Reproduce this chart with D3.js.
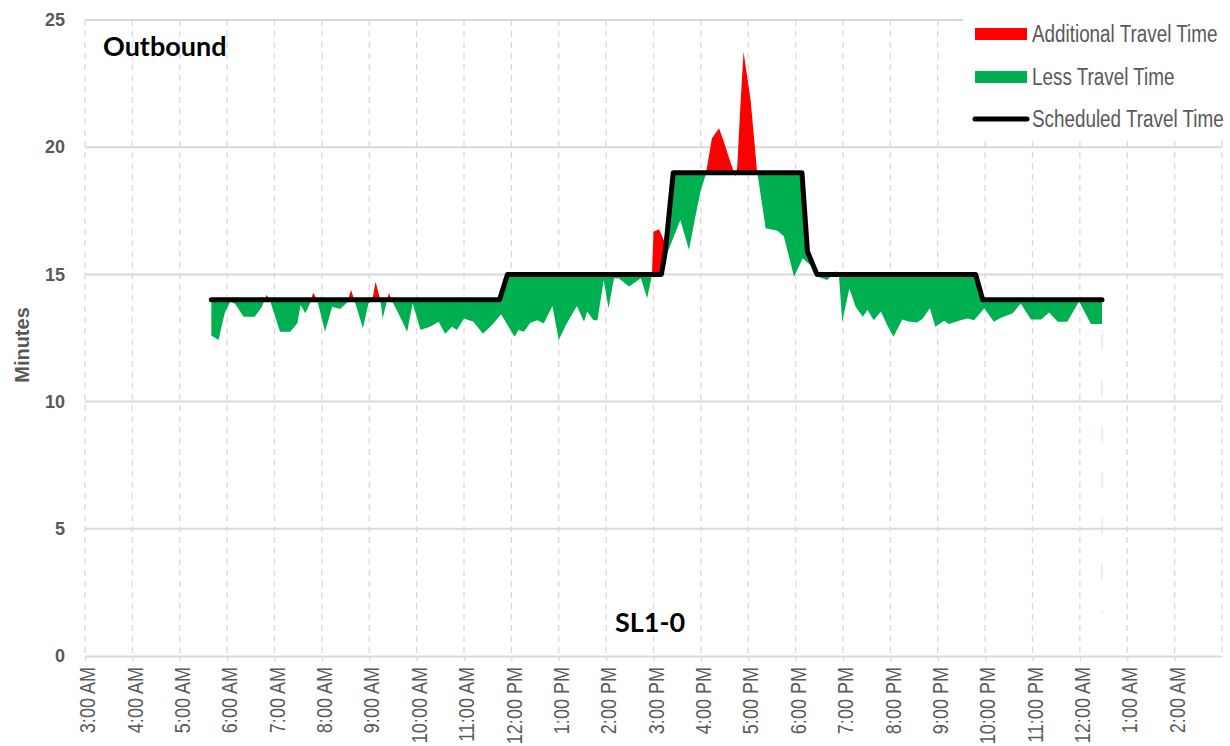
<!DOCTYPE html>
<html>
<head>
<meta charset="utf-8">
<script src="https://cdn.jsdelivr.net/npm/d3@7"></script>
<style>
body { margin:0; background:#ffffff; }
.axis text { fill:#595959; }
</style>
</head>
<body>
<svg id="chart"></svg>
<script>
// Scheduled travel time breakpoints (minutes)
var schedTimes = ["5:40","11:45","11:55","15:10","15:15","15:25","18:08","18:15","18:27","21:48","21:57","0:28"];
var schedValues = [14,14,15,15,15.9,19,19,15.9,15,15,14,14];

var actualTimes = ["5:40","5:49","5:57","6:04","6:10","6:21","6:35","6:44","6:50","6:54",
    "7:07","7:20","7:29","7:33","7:39","7:45","7:49","7:54","8:04","8:13",
    "8:23","8:32","8:37","8:41","8:52","8:59","9:04","9:08","9:14","9:17",
    "9:25","9:28","9:39","9:48","9:55","10:05","10:17","10:28","10:36","10:45",
    "10:51","11:00","11:12","11:24","11:36","11:47","12:04","12:09","12:16","12:24",
    "12:33","12:41","12:52","13:00","13:09","13:15","13:23","13:32","13:36","13:44",
    "13:49","13:57","14:03","14:10","14:16","14:29","14:35","14:44","14:52","14:58",
    "15:00","15:07","15:13","15:19","15:34","15:45","15:53","16:00","16:06","16:14",
    "16:23","16:29","16:38","16:44","16:46","16:50","16:54","17:03","17:11","17:22",
    "17:37","17:45","17:58","18:09","18:21","18:28","18:40","18:51","18:55","18:59",
    "19:08","19:16","19:25","19:31","19:39","19:48","19:56","20:04","20:15","20:23",
    "20:34","20:41","20:50","20:57","21:08","21:14","21:29","21:38","21:46","21:59",
    "22:11","22:20","22:35","22:45","22:58","23:11","23:21","23:32","23:44","23:59",
    "0:14","0:28"];
var actualValues = [12.6,12.42,13.48,13.93,13.85,13.34,13.34,13.73,14.19,14.0,
    12.75,12.75,13.08,13.8,13.47,13.86,14.28,14.0,12.75,13.73,
    13.64,13.9,14.39,14.0,12.88,13.86,14.0,14.71,14.0,13.27,
    14.28,14.0,13.34,12.75,13.86,12.81,12.94,13.14,12.67,12.94,
    12.81,13.27,13.14,12.67,13.03,13.43,12.55,12.81,12.75,13.1,
    13.2,13.07,13.76,12.42,13.0,13.34,13.76,13.14,13.54,13.2,
    13.2,14.78,13.67,14.85,14.85,14.52,14.65,14.85,14.06,14.98,
    16.68,16.77,16.35,15.96,17.14,15.96,17.27,18.32,18.9,20.35,
    20.74,20.22,19.36,18.84,19.2,21.59,23.75,21.86,19.1,16.81,
    16.72,16.5,14.91,15.63,15.3,14.91,14.78,15.12,14.9,13.14,
    14.45,13.73,13.34,13.6,13.2,13.54,13.0,12.55,13.23,13.15,
    13.11,13.27,13.67,12.94,13.18,13.05,13.2,13.27,13.2,13.67,
    13.14,13.3,13.47,13.86,13.23,13.23,13.5,13.14,13.14,13.93,
    13.05,13.05];

// Axis settings
var yTicks = [0,5,10,15,20,25];
var dayStart = "3:00";   // first hour on the x axis
var legendItems = ["Additional Travel Time","Less Travel Time","Scheduled Travel Time"];

// no narrow font installed, so squeeze Liberation Sans
var narrow = 0.82;
var sansFont = "'Liberation Sans',Arial,sans-serif";

// hours before 3 AM belong to the next day
var parseTime = function(s) {
    var p = s.split(":");
    var h = +p[0];
    return new Date(2020, 0, h < 3 ? 2 : 1, h, +p[1]);
}

var screen = {width:1230, height:746};
var margins = {top:20, bottom:90, left:85, right:8};
var graph = {
    width:screen.width-margins.left-margins.right,
    height:screen.height-margins.top-margins.bottom
};

var svg = d3.select("#chart")
    .attr("width",screen.width)
    .attr("height",screen.height);

var start = parseTime(dayStart);
var end = d3.timeDay.offset(start,1);

var xScale = d3.scaleTime()
    .domain([start,end])
    .range([0,graph.width]);
var yScale = d3.scaleLinear()
    .domain([0,25])
    .range([graph.height,0]);

var g = svg.append("g")
    .attr("transform","translate("+margins.left+","+margins.top+")");

// vertical dashed gridlines, one per hour
g.append("g").selectAll("line")
    .data(d3.timeHour.range(start,d3.timeMinute.offset(end,1)))
    .enter().append("line")
    .attr("x1",function(d){ return xScale(d); })
    .attr("x2",function(d){ return xScale(d); })
    .attr("y1",0).attr("y2",graph.height)
    .attr("stroke","#d9d9d9")
    .attr("stroke-width",1.3)
    .attr("stroke-dasharray","6,5");

// horizontal gridlines
g.append("g").selectAll("line")
    .data(yTicks.slice(1))
    .enter().append("line")
    .attr("x1",0).attr("x2",graph.width)
    .attr("y1",function(d){ return yScale(d); })
    .attr("y2",function(d){ return yScale(d); })
    .attr("stroke","#d9d9d9")
    .attr("stroke-width",2);

// points
var actualPts = actualTimes.map(function(t,i){ return [parseTime(t),actualValues[i]]; });
var schedPts = schedTimes.map(function(t,i){ return [parseTime(t),schedValues[i]]; });
var line = d3.line()
    .x(function(d){ return xScale(d[0]); })
    .y(function(d){ return yScale(d[1]); });

// clip regions above and below the schedule
var first = schedValues[0], last = schedValues[schedValues.length-1];
var abovePts = [[start,first]].concat(schedPts,[[end,last],[end,27],[start,27]]);
var belowPts = [[start,first]].concat(schedPts,[[end,last],[end,-1],[start,-1]]);
var defs = svg.append("defs");
defs.append("clipPath").attr("id","above")
    .append("path").attr("d",line(abovePts)+"Z");
defs.append("clipPath").attr("id","below")
    .append("path").attr("d",line(belowPts)+"Z");

// band between actual and scheduled
var band = line(actualPts.concat(schedPts.slice().reverse()))+"Z";
g.append("path").attr("d",band)
    .attr("fill","#ff0000")
    .attr("clip-path","url(#above)");
g.append("path").attr("d",band)
    .attr("fill","#00b050")
    .attr("clip-path","url(#below)");

// faint trailing edge of the area
var lastT = actualPts[actualPts.length-1];
g.append("line")
    .attr("x1",xScale(lastT[0])).attr("x2",xScale(lastT[0]))
    .attr("y1",yScale(lastT[1])+10).attr("y2",yScale(1.7))
    .attr("stroke","#c4ecd6")
    .attr("stroke-width",1)
    .attr("stroke-dasharray","16,30");

// scheduled line
g.append("path").attr("d",line(schedPts))
    .attr("fill","none")
    .attr("stroke","#000")
    .attr("stroke-width",5)
    .attr("stroke-linejoin","round")
    .attr("stroke-linecap","round");

// x axis
var xAxis = d3.axisBottom(xScale)
    .tickValues(d3.timeHour.range(start,end))
    .tickFormat(d3.timeFormat("%-I:%M %p"))
    .tickSize(5)
    .tickSizeOuter(0);
var xg = g.append("g")
    .classed("axis",true)
    .attr("transform","translate(0,"+graph.height+")")
    .call(xAxis);
xg.select(".domain").attr("stroke","#d9d9d9").attr("stroke-width",2);
xg.selectAll(".tick line").attr("stroke","#d9d9d9").attr("stroke-width",1.3);
xg.selectAll("text")
    .attr("font-family",sansFont)
    .attr("font-size",22)
    .attr("text-anchor","end")
    .attr("transform","rotate(-90) scale("+narrow+",1)")
    .attr("x",-11/narrow)
    .attr("y",2)
    .attr("dy","0.35em");

// y axis
var yAxis = d3.axisLeft(yScale)
    .tickValues(yTicks)
    .tickSize(0)
    .tickPadding(20);
var yg = g.append("g").classed("axis",true).call(yAxis);
yg.select(".domain").remove();
yg.selectAll("text")
    .attr("font-family",sansFont)
    .attr("font-weight","bold")
    .attr("font-size",18);

svg.append("text")
    .text("Minutes")
    .attr("transform","translate(22,345) rotate(-90)")
    .attr("text-anchor","middle")
    .attr("dominant-baseline","central")
    .attr("font-family",sansFont)
    .attr("font-weight","bold")
    .attr("font-size",20)
    .attr("fill","#595959");

// titles
svg.append("text").text("Outbound")
    .attr("x",103).attr("y",56)
    .attr("font-family","Lato,sans-serif")
    .attr("font-weight","bold")
    .attr("font-size",27)
    .attr("fill","#000");
svg.append("text").text("SL1-0")
    .attr("x",615).attr("y",632)
    .attr("font-family","Lato,sans-serif")
    .attr("font-weight","bold")
    .attr("font-size",27)
    .attr("fill","#000");

// legend
var legend = svg.append("g");
legend.append("rect")
    .attr("x",963).attr("y",14)
    .attr("width",267).attr("height",122)
    .attr("fill","#fff");
var rowY = [34,77,119];
legend.append("rect").attr("x",975).attr("y",rowY[0]-6)
    .attr("width",52).attr("height",12).attr("fill","#ff0000");
legend.append("rect").attr("x",975).attr("y",rowY[1]-6)
    .attr("width",52).attr("height",12).attr("fill","#00b050");
legend.append("line").attr("x1",975).attr("x2",1027)
    .attr("y1",rowY[2]).attr("y2",rowY[2])
    .attr("stroke","#000").attr("stroke-width",5)
    .attr("stroke-linecap","round");
legend.selectAll(".label")
    .data(legendItems)
    .enter().append("text")
    .classed("label",true)
    .text(function(d){ return d; })
    .attr("transform",function(d,i){
        return "translate(1032,"+rowY[i]+") scale("+narrow+",1)";
    })
    .attr("dominant-baseline","central")
    .attr("font-family",sansFont)
    .attr("font-size",23)
    .attr("fill","#595959");
</script>
</body>
</html>
